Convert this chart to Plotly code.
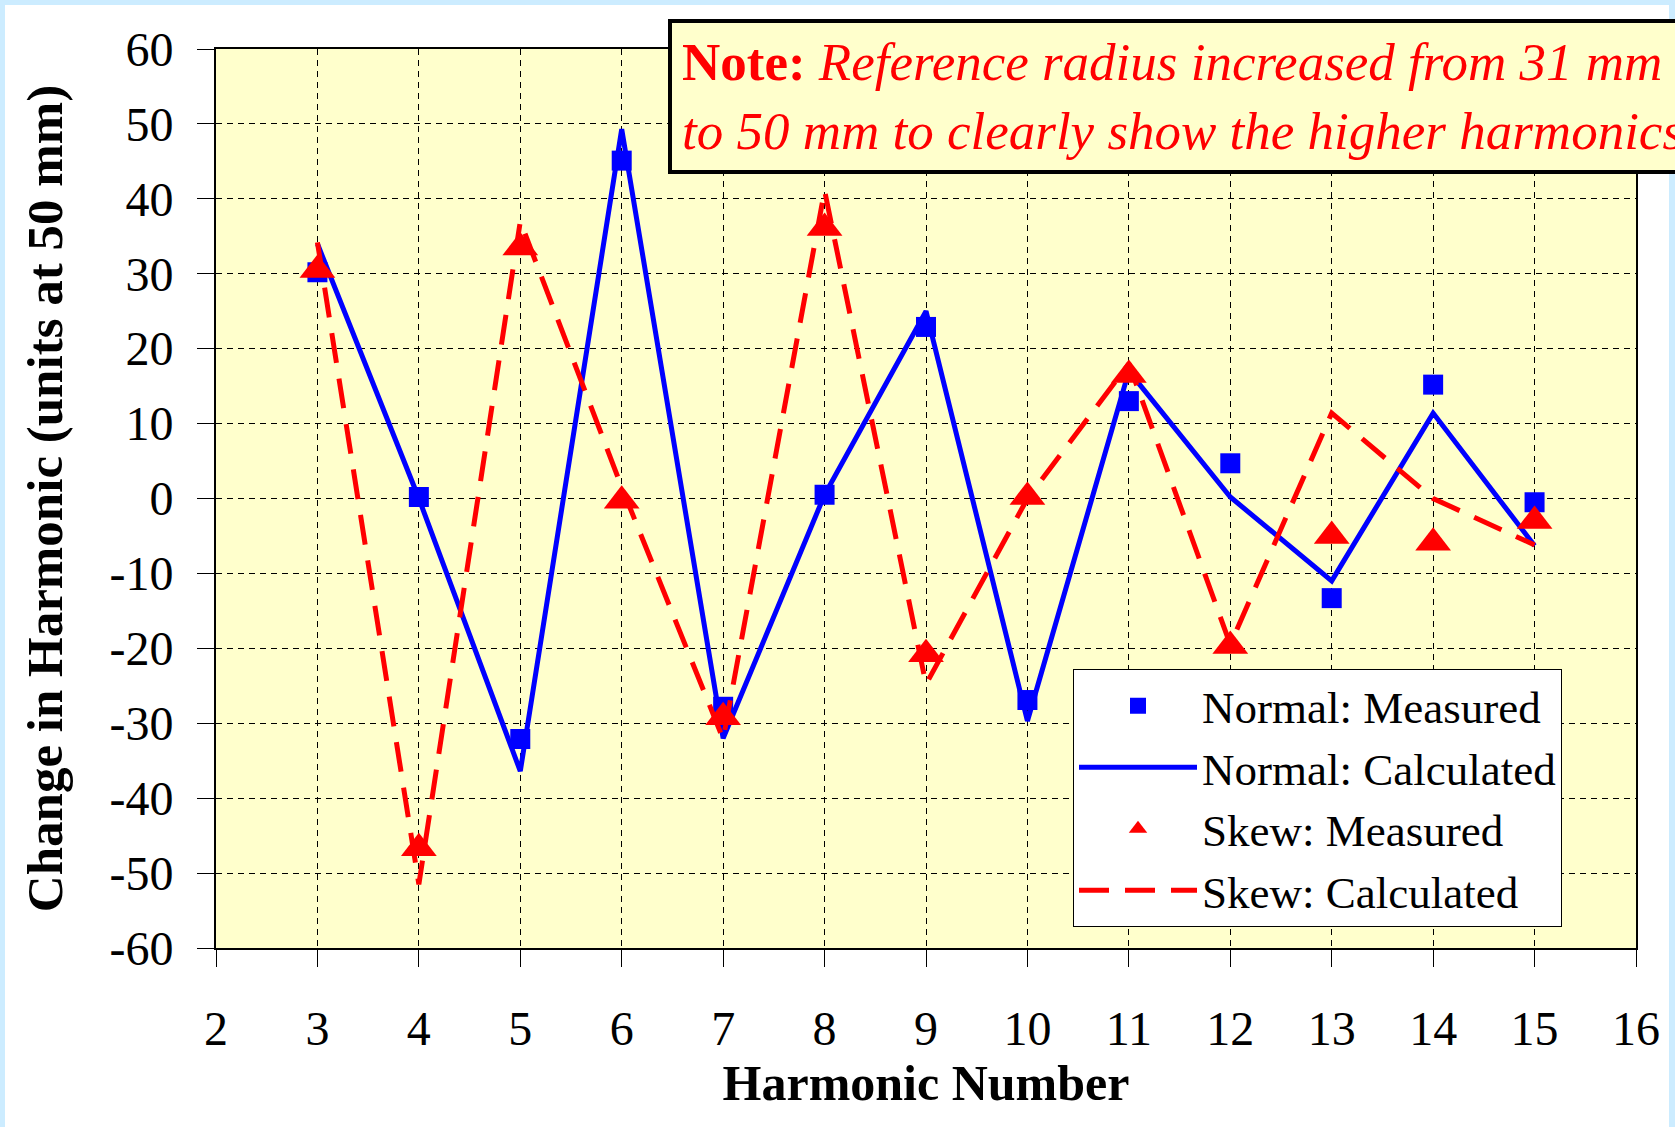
import plotly.graph_objects as go

# ---------------- data ----------------
harmonics = [3, 4, 5, 6, 7, 8, 9, 10, 11, 12, 13, 14, 15]
normal_measured = [30.2, 0.2, -32.1, 45.1, -27.8, 0.5, 22.9, -26.9, 13.0, 4.7, -13.3, 15.2, -0.5]
normal_calculated = [34.0, 0.0, -36.4, 49.3, -32.0, 0.5, 25.0, -29.7, 17.0, 0.2, -11.0, 11.4, -6.3]
skew_measured = [30.5, -46.7, 33.5, -0.3, -29.2, 36.1, -20.8, 0.2, 16.5, -19.7, -5.0, -5.9, -3.0]
skew_calculated = [34.2, -51.5, 37.0, 1.5, -32.1, 41.1, -24.8, 0.0, 18.0, -19.5, 11.4, 0.0, -6.2]

x_ticks = list(range(2, 17))
y_ticks = list(range(-60, 61, 10))
y_tick_text = [str(v) for v in y_ticks]  # plain hyphen minus like the original

FONT = "Liberation Serif, Times New Roman, serif"
W, H = 1675, 1127
ML, MR, MT, MB = 216, 39, 49, 179
PW, PH = W - ML - MR, H - MT - MB


def px_x(p):
    return (p - ML) / PW


def px_y(p):
    return 1 - (p - MT) / PH


fig = go.Figure()
fig.add_trace(go.Scatter(
    x=harmonics, y=normal_measured, mode="markers", name="Normal: Measured",
    marker=dict(symbol="square", size=20, color="#0000FF"),
))
fig.add_trace(go.Scatter(
    x=harmonics, y=normal_calculated, mode="lines", name="Normal: Calculated",
    line=dict(color="#0000FF", width=5),
))
fig.add_trace(go.Scatter(
    x=harmonics, y=skew_measured, mode="markers", name="Skew: Measured",
    marker=dict(symbol="triangle-up", size=31, color="#FF0000"),
))
fig.add_trace(go.Scatter(
    x=harmonics, y=skew_calculated, mode="lines", name="Skew: Calculated",
    line=dict(color="#FF0000", width=5, dash="30px,16px"),
))

axis_common = dict(
    showgrid=True, gridcolor="black", gridwidth=1, griddash="6px,5px",
    ticks="outside", ticklen=17, tickcolor="black", tickwidth=1,
    showline=True, linecolor="black", linewidth=2, mirror=True,
    zeroline=False,
    tickfont=dict(family=FONT, size=48, color="black"),
)

fig.update_xaxes(
    range=[2, 16], tickvals=x_ticks, ticktext=[str(v) for v in x_ticks],
    ticklabelstandoff=20,
    title=dict(text="<b>Harmonic Number</b>", font=dict(family=FONT, size=50, color="black"), standoff=10),
    **axis_common,
)
fig.update_yaxes(
    range=[-60, 60], tickvals=y_ticks, ticktext=y_tick_text,
    ticklabelstandoff=14,
    title=dict(text="<b>Change in Harmonic (units at 50 mm)</b>", font=dict(family=FONT, size=51, color="black"), standoff=31),
    **axis_common,
)

light_blue = "#CCECFF"
shapes = [
    dict(type="rect", xref="paper", yref="paper", x0=px_x(0), x1=px_x(5), y0=px_y(H), y1=px_y(0),
         fillcolor=light_blue, line=dict(width=0), layer="below"),
    dict(type="rect", xref="paper", yref="paper", x0=px_x(0), x1=px_x(W), y0=px_y(5), y1=px_y(0),
         fillcolor=light_blue, line=dict(width=0), layer="below"),
    dict(type="rect", xref="paper", yref="paper", x0=px_x(1669), x1=px_x(W), y0=px_y(H), y1=px_y(0),
         fillcolor=light_blue, line=dict(width=0), layer="below"),
]

fig.update_layout(
    width=W, height=H, autosize=False,
    margin=dict(l=ML, r=MR, t=MT, b=MB, pad=0),
    paper_bgcolor="white", plot_bgcolor="#FFFFCC",
    font=dict(family=FONT, color="black"),
    shapes=shapes,
    legend=dict(
        x=px_x(1073), xanchor="left", y=px_y(798), yanchor="middle",
        bgcolor="white", bordercolor="black", borderwidth=1,
        font=dict(family=FONT, size=45, color="black"),
        itemwidth=118,
    ),
    annotations=[dict(
        xref="paper", yref="paper", x=px_x(668), y=px_y(19), xanchor="left", yanchor="top",
        text="<b>Note:</b> <i>Reference radius increased from 31 mm</i><br><i>to 50 mm to clearly show the higher harmonics</i>",
        showarrow=False, align="left",
        font=dict(family=FONT, size=53, color="#FF0000"),
        bgcolor="#FFFFCC", bordercolor="black", borderwidth=4, borderpad=10,
    )],
)

fig.write_html(
    "out.html",
    config={"displayModeBar": False},
    post_script="document.body.style.margin='0';document.body.style.overflow='hidden';",
)
